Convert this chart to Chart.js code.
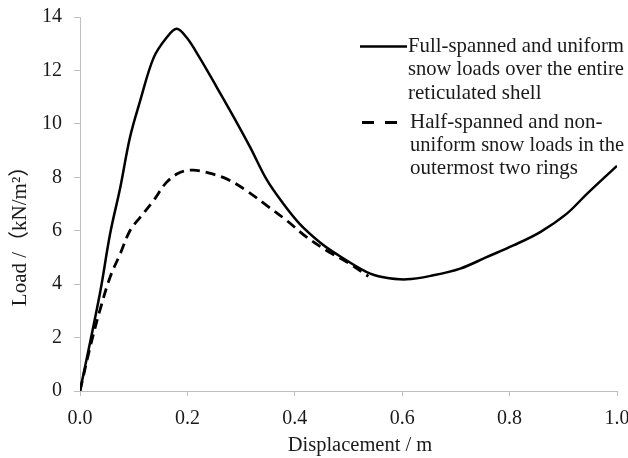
<!DOCTYPE html>
<html>
<head>
<meta charset="utf-8">
<script src="https://cdn.jsdelivr.net/npm/chart.js@4/dist/chart.umd.min.js"></script>
<style>
  body { margin: 0; background: #fff; }
  #wrap { width: 628px; height: 458px; }
</style>
</head>
<body>
<div id="wrap"><canvas id="myChart" width="628" height="458"></canvas></div>
<script>
// values
const dispFull = [0, 0.037, 0.056, 0.075, 0.093, 0.112, 0.137, 0.161, 0.18, 0.199, 0.223, 0.255, 0.285, 0.317, 0.348, 0.379, 0.409, 0.447, 0.472, 0.534, 0.565, 0.608, 0.658, 0.708, 0.757, 0.807, 0.857, 0.906, 0.944, 1.0]
const loadFull = [0, 3.64, 5.88, 7.62, 9.49, 10.86, 12.47, 13.22, 13.56, 13.22, 12.47, 11.36, 10.3, 9.12, 7.9, 7.0, 6.26, 5.56, 5.2, 4.45, 4.26, 4.18, 4.33, 4.58, 5.01, 5.45, 5.95, 6.63, 7.38, 8.43]
const dispHalf = [0, 0.019, 0.037, 0.056, 0.075, 0.093, 0.112, 0.137, 0.161, 0.186, 0.211, 0.236, 0.273, 0.31, 0.348, 0.385, 0.422, 0.459, 0.497, 0.537]
const loadHalf = [0, 1.65, 3.02, 4.26, 5.14, 6.0, 6.5, 7.13, 7.81, 8.18, 8.27, 8.18, 7.94, 7.5, 6.94, 6.38, 5.76, 5.26, 4.83, 4.29]
const xTicks = [0, 0.2, 0.4, 0.6, 0.8, 1.0]
const yTicks = [0, 2, 4, 6, 8, 10, 12, 14]
const xTitle = 'Displacement / m'
const yTitle = 'Load /（kN/m²）'
const legendFull = ['Full-spanned and uniform', 'snow loads over the entire', 'reticulated shell']
const legendHalf = ['Half-spanned and non-', 'uniform snow loads in the', 'outermost two rings']

const serif = '"Liberation Serif", "Times New Roman", "Noto Sans CJK SC", serif'
const ink = '#1a1a1a'
const toPts = (xs, ys) => xs.map((x, i) => ({ x: x, y: ys[i] }))

// legend and axis titles drawn by hand (wrapped labels, off-centre titles)
const extras = {
  id: 'extras',
  afterDraw(chart) {
    const c = chart.ctx
    c.save()
    c.fillStyle = ink
    c.textBaseline = 'middle'

    c.font = '20.5px ' + serif
    c.textAlign = 'center'
    c.fillText(xTitle, 360, 446)
    c.save()
    c.translate(20, 231)
    c.rotate(-Math.PI / 2)
    c.font = '21px ' + serif
    c.fillText(yTitle, 0, 0)
    c.restore()

    c.textAlign = 'left'
    c.font = '21px ' + serif
    c.strokeStyle = '#000'
    c.lineWidth = 2.5
    c.beginPath()
    c.moveTo(360, 46.5); c.lineTo(407, 46.5)
    c.stroke()
    c.lineWidth = 3
    c.setLineDash([12, 11])
    c.beginPath()
    c.moveTo(362, 122.5); c.lineTo(397, 122.5)
    c.stroke()
    legendFull.forEach((t, i) => c.fillText(t, 408, 46.5 + i * 23.3, 216))
    legendHalf.forEach((t, i) => c.fillText(t, 410, 122.5 + i * 23, 214))
    c.restore()
  }
}

new Chart(document.getElementById('myChart'), {
  type: 'scatter',
  data: {
    datasets: [{
      label: 'Full',
      data: toPts(dispFull, loadFull),
      showLine: true,
      borderColor: '#000',
      borderWidth: 2.5,
      pointRadius: 0,
      tension: 0.35
    }, {
      label: 'Half',
      data: toPts(dispHalf, loadHalf),
      showLine: true,
      borderColor: '#000',
      borderWidth: 2.8,
      borderDash: [10, 6],
      pointRadius: 0,
      tension: 0.35
    }]
  },
  options: {
    responsive: false,
    animation: false,
    layout: { padding: { top: 17, right: 11, left: 0, bottom: 0 } },
    plugins: { legend: { display: false }, tooltip: { enabled: false } },
    scales: {
      x: {
        type: 'linear', min: 0, max: 1,
        afterBuildTicks: s => { s.ticks = xTicks.map(v => ({ value: v })) },
        afterFit: s => { s.height = 67; s.paddingLeft = 0; s.paddingRight = 0 },
        grid: { display: true, drawOnChartArea: false, tickLength: 5, color: '#bfbfbf' },
        border: { color: '#bfbfbf', width: 1 },
        ticks: { color: ink, font: { family: serif, size: 20 }, padding: 11, callback: v => v.toFixed(1) }
      },
      y: {
        min: 0, max: 14,
        afterBuildTicks: s => { s.ticks = yTicks.map(v => ({ value: v })) },
        afterFit: s => { s.width = 80; s.paddingTop = 0; s.paddingBottom = 0 },
        grid: { display: true, drawOnChartArea: false, tickLength: 6, color: '#bfbfbf' },
        border: { color: '#bfbfbf', width: 1 },
        ticks: { color: ink, font: { family: serif, size: 20 }, padding: 12 }
      }
    }
  },
  plugins: [extras]
})
</script>
</body>
</html>
